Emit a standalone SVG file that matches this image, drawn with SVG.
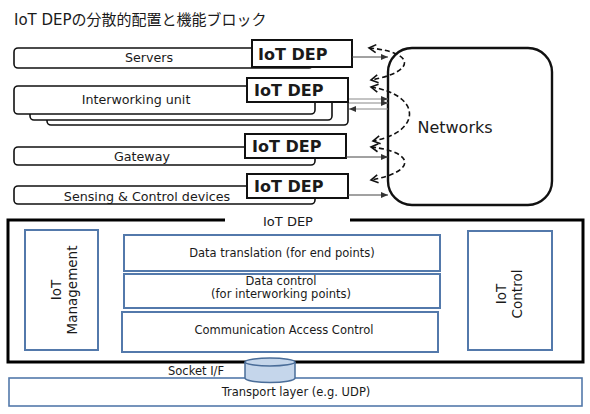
<svg xmlns="http://www.w3.org/2000/svg" width="590" height="414" viewBox="0 0 590 414">
<style>
text{font-family:"DejaVu Sans","Noto Sans CJK JP",sans-serif;fill:#1a1a1a}
.bar{fill:#fff;stroke:#111;stroke-width:1.6}
.dep{fill:#fff;stroke:#111;stroke-width:2}
.dept{font-size:16px;font-weight:bold}
.lbl{font-size:12.7px;text-anchor:middle}
.blue{fill:#fff;stroke:#5379ab;stroke-width:2}
.in{font-size:11.5px;text-anchor:middle}
.ln{stroke:#444;stroke-width:1;fill:none}
.ln2{stroke:#888;stroke-width:1;fill:none}
.dash{stroke:#111;stroke-width:1.6;fill:none;stroke-dasharray:5 3}
</style>
<defs>
<marker id="ah" markerWidth="8" markerHeight="8" refX="7" refY="4" orient="auto" markerUnits="userSpaceOnUse">
<path d="M0,1 L7,4 L0,7 Z" fill="#333"/>
</marker>
<marker id="ch" markerWidth="10" markerHeight="10" refX="8" refY="5" orient="auto-start-reverse" markerUnits="userSpaceOnUse">
<path d="M1,1 L8,5 L1,9" fill="none" stroke="#111" stroke-width="1.6"/>
</marker>
</defs>
<text x="14" y="25" font-size="15px">IoT DEPの分散的配置と機能ブロック</text>

<g id="servers">
<rect class="bar" x="14" y="48" width="299" height="20" rx="4"/>
<text class="lbl" x="149" y="62">Servers</text>
<rect class="dep" x="252" y="40" width="100" height="27"/>
<text class="dept" x="258" y="60">IoT DEP</text>
</g>
<g id="interworking">
<rect class="bar" x="47" y="92" width="301" height="33" rx="4"/>
<rect class="bar" x="30" y="89" width="302" height="31" rx="4"/>
<rect class="bar" x="14" y="86" width="301" height="28" rx="4"/>
<text class="lbl" x="136" y="104">Interworking unit</text>
<rect class="dep" x="247" y="78" width="101" height="24"/>
<text class="dept" x="254" y="96">IoT DEP</text>
</g>
<g id="gateway">
<rect class="bar" x="14" y="147" width="301" height="18" rx="4"/>
<text class="lbl" x="142" y="161">Gateway</text>
<rect class="dep" x="245" y="134" width="101" height="24"/>
<text class="dept" x="252" y="152">IoT DEP</text>
</g>
<g id="sensing">
<rect class="bar" x="14" y="186" width="301" height="18" rx="4"/>
<text class="lbl" x="147" y="201">Sensing &amp; Control devices</text>
<rect class="dep" x="247" y="174" width="101" height="24"/>
<text class="dept" x="254" y="192">IoT DEP</text>
</g>
<g id="networks">
<rect x="388" y="48" width="164" height="157" rx="24" fill="#fff" stroke="#111" stroke-width="2.4"/>
<text x="455" y="133" font-size="16px" text-anchor="middle">Networks</text>
</g>

<g id="connectors">
<line class="ln" x1="352" y1="57" x2="388" y2="57" marker-end="url(#ah)"/>
<line class="ln2" x1="349" y1="99" x2="388" y2="99" marker-end="url(#ah)"/>
<line class="ln2" x1="349" y1="103" x2="388" y2="103" marker-end="url(#ah)"/>
<line class="ln2" x1="388" y1="109" x2="349" y2="109" marker-end="url(#ah)"/>
<line class="ln" x1="346" y1="157" x2="388" y2="157" marker-end="url(#ah)"/>
<line class="ln" x1="348" y1="195" x2="388" y2="195" marker-end="url(#ah)"/>
<path class="dash" d="M369,48 C416,52 416,72 371,80" marker-start="url(#ch)" marker-end="url(#ch)"/>
<path class="dash" d="M371,87 C422,95 422,132 373,141" marker-start="url(#ch)" marker-end="url(#ch)"/>
<path class="dash" d="M371,147 C416,152 416,172 371,180" marker-start="url(#ch)" marker-end="url(#ch)"/>
</g>

<g id="dep-frame">
<path d="M225,220 L8,220 L8,362 L583,362 L583,220 L350,220" fill="none" stroke="#000" stroke-width="3"/>
<text x="288" y="226" font-size="13px" text-anchor="middle">IoT DEP</text>
</g>
<g id="iot-management">
<rect class="blue" x="25" y="230" width="73" height="120"/>
<text font-size="13.5px" text-anchor="middle" transform="translate(61,290) rotate(-90)"><tspan x="0" y="0">IoT</tspan><tspan x="0" y="16">Management</tspan></text>
</g>
<g id="data-translation">
<rect class="blue" x="124" y="235" width="316" height="36"/>
<text class="in" x="282" y="257">Data translation (for end points)</text>
</g>
<g id="data-control">
<rect class="blue" x="124" y="274" width="316" height="34"/>
<text class="in" x="281" y="285">Data control</text>
<text class="in" x="281" y="298">(for interworking points)</text>
</g>
<g id="comm-access">
<rect class="blue" x="122" y="312" width="316" height="40"/>
<text class="in" x="284" y="334">Communication Access Control</text>
</g>
<g id="iot-control">
<rect class="blue" x="468" y="231" width="84" height="119"/>
<text font-size="13.5px" text-anchor="middle" transform="translate(506,294) rotate(-90)"><tspan x="0" y="0">IoT</tspan><tspan x="0" y="16">Control</tspan></text>
</g>
<g id="transport">
<rect x="9" y="378" width="573" height="28" fill="#fff" stroke="#5379ab" stroke-width="1.6"/>
<text class="in" x="296" y="396">Transport layer (e.g. UDP)</text>
</g>
<g id="socket">
<text class="in" x="196" y="375">Socket I/F</text>
<path d="M245,362 L245,378 A25,4.5 0 0 0 295,378 L295,362" fill="#c5d6eb" stroke="#4a6d99" stroke-width="1.5"/>
<ellipse cx="270" cy="362" rx="25" ry="4" fill="#c5d6eb" stroke="#4a6d99" stroke-width="1.5"/>
</g>
</svg>
